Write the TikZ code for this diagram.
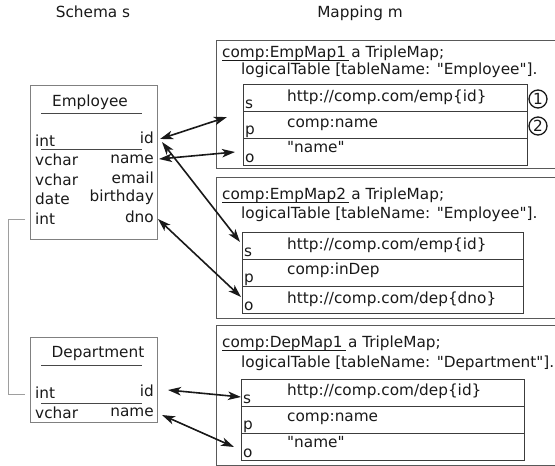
\documentclass[tikz,border=0pt]{standalone}
\usepackage{fontspec}
\setmainfont{DejaVu Sans}[Ligatures=TeXOff]
\usetikzlibrary{arrows.meta,calc}
\definecolor{ink}{gray}{0.1}
\definecolor{framegray}{gray}{0.35}
\definecolor{tablegray}{gray}{0.5}
\definecolor{rulegray}{gray}{0.62}
\begin{document}
\begin{tikzpicture}[x=1pt,y=-1pt,
  font=\fontsize{15.3}{18}\selectfont,
  every node/.style={inner sep=0pt, text=ink},
  lt/.style={anchor=base west},
  rt/.style={anchor=base east},
  ct/.style={anchor=base},
  tablebox/.style={draw=tablegray, line width=0.9pt, anchor=north west},
  mapframe/.style={draw=framegray, line width=0.9pt, anchor=north west},
  rowcell/.style={draw=ink!85, line width=0.9pt, anchor=north west},
  sepline/.style={draw=ink!80, line width=0.9pt},
  fkline/.style={draw=rulegray, line width=0.8pt},
  link/.style={{Stealth[length=13pt,width=8.5pt,inset=3.5pt]}-{Stealth[length=13pt,width=8.5pt,inset=3.5pt]},
    line width=1.6pt, draw=ink},
  num/.style={circle, draw=ink, line width=1.3pt, minimum size=18pt, inner sep=0pt}
]
\clip (0,0) rectangle (555,466);

% column titles
\node[ct] (ts) at (93,17) {Schema s};
\node[ct] (tm) at (360,17) {Mapping m};

% ---------- schema: Employee ----------
\node[tablebox, minimum width=127pt, minimum height=154pt] (emp) at (30,85) {};
\node[ct] (empT) at (90,106) {Employee};
\draw[sepline] (41,113) -- (142,113);
\node[lt] (e1t) at (35,146) {int};
\node[rt] (e1n) at (154,143) {id};
\draw[sepline] (41,149) -- (142,149);
\node[lt] (e2t) at (35,165) {vchar};
\node[rt] (e2n) at (154,163) {name};
\node[lt] (e3t) at (35,185) {vchar};
\node[rt] (e3n) at (154,183) {email};
\node[lt] (e4t) at (35,204) {date};
\node[rt] (e4n) at (154,201) {birthday};
\node[lt] (e5t) at (35,224) {int};
\node[rt] (e5n) at (154,222) {dno};

% ---------- schema: Department ----------
\node[tablebox, minimum width=127pt, minimum height=85pt] (dep) at (30,337) {};
\node[ct] (depT) at (98,357) {Department};
\draw[sepline] (41,365) -- (142,365);
\node[lt] (d1t) at (35,398) {int};
\node[rt] (d1n) at (154,396) {id};
\draw[sepline] (41,403) -- (142,403);
\node[lt] (d2t) at (35,418) {vchar};
\node[rt] (d2n) at (154,416) {name};

% foreign key dno -> Department
\coordinate (fkA) at (25,219);
\coordinate (fkB) at (25,394);
\draw[fkline] (fkA) -- ++(-17,0) |- (fkB);

% ---------- mapping frames ----------
\node[mapframe, minimum width=360pt, minimum height=128pt] (map1) at (216,40) {};
\node[mapframe, minimum width=360pt, minimum height=141pt] (map2) at (216,177) {};
\node[mapframe, minimum width=360pt, minimum height=140pt] (map3) at (216,325) {};

% headers
\node[lt] (h1a) at (222,57) {comp:EmpMap1};
\node[lt] (h1b) at ($(h1a.base east)+(5,0)$) {a TripleMap;};
\draw[ink, line width=0.9pt] ($(h1a.base west)+(0,3.5)$) -- ($(h1a.base east)+(3,3.5)$);
\node[lt] (h1c) at (241,74) {logicalTable [tableName: "Employee"].};

\node[lt] (h2a) at (222,199) {comp:EmpMap2};
\node[lt] (h2b) at ($(h2a.base east)+(5,0)$) {a TripleMap;};
\draw[ink, line width=0.9pt] ($(h2a.base west)+(0,3.5)$) -- ($(h2a.base east)+(3,3.5)$);
\node[lt] (h2c) at (241,218) {logicalTable [tableName: "Employee"].};

\node[lt] (h3a) at (222,347) {comp:DepMap1};
\node[lt] (h3b) at ($(h3a.base east)+(5,0)$) {a TripleMap;};
\draw[ink, line width=0.9pt] ($(h3a.base west)+(0,3.5)$) -- ($(h3a.base east)+(3,3.5)$);
\node[lt] (h3c) at (241,367) {logicalTable [tableName: "Department"].};

% ---------- triple tables ----------
\foreach \nm/\x/\y/\w in {m1s/243/84/284, m1p/243/111/284, m1o/243/138/284,
                          m2s/242/232/281, m2p/242/259/281, m2o/242/286/281,
                          m3s/241/379/283, m3p/241/406/283, m3o/241/433/283}
  \node[rowcell, minimum width=\w pt, minimum height=27pt] (\nm) at (\x,\y) {};

\foreach \tb in {m1,m2,m3}{
  \node[lt] at ($(\tb s.south west)+(2,-3)$) {s};
  \node[lt] at ($(\tb p.south west)+(2,-4)$) {p};
  \node[lt] at ($(\tb o.south west)+(2,-3)$) {o};
}

\node[lt] (v1s) at ($(m1s.north west)+(44,17)$) {http://comp.com/emp\{id\}};
\node[lt] (v1p) at ($(m1p.north west)+(44,16)$) {comp:name};
\node[lt] (v1o) at ($(m1o.north west)+(44,14)$) {"name"};

\node[lt] (v2s) at ($(m2s.north west)+(45,17)$) {http://comp.com/emp\{id\}};
\node[lt] (v2p) at ($(m2p.north west)+(45,15)$) {comp:inDep};
\node[lt] (v2o) at ($(m2o.north west)+(45,17)$) {http://comp.com/dep\{dno\}};

\node[lt] (v3s) at ($(m3s.north west)+(46,16)$) {http://comp.com/dep\{id\}};
\node[lt] (v3p) at ($(m3p.north west)+(46,15)$) {comp:name};
\node[lt] (v3o) at ($(m3o.north west)+(46,14)$) {"name"};

% numbered markers
\node[num] (c1) at (538,99) {1};
\node[num] (c2) at (538,126) {2};

% ---------- links between schema and mapping ----------
\coordinate (pEid1) at (160,139);
\coordinate (pEid2) at (162,142);
\coordinate (pEname) at (159,159);
\coordinate (pEdno) at (158,219);
\coordinate (pDid) at (168,390);
\coordinate (pDname) at (162,415);
\coordinate (q1s) at (227,117);
\coordinate (q1o) at (235,152);
\coordinate (q2s) at (240,242);
\coordinate (q2o) at (241,297);
\coordinate (q3s) at (241,397);
\coordinate (q3o) at (234,447);

\draw[link] (pEid1) -- (q1s);
\draw[link] (pEname) -- (q1o);
\draw[link] (pEid2) -- (q2s);
\draw[link] (pEdno) -- (q2o);
\draw[link] (pDid) -- (q3s);
\draw[link] (pDname) -- (q3o);
\end{tikzpicture}
\end{document}
